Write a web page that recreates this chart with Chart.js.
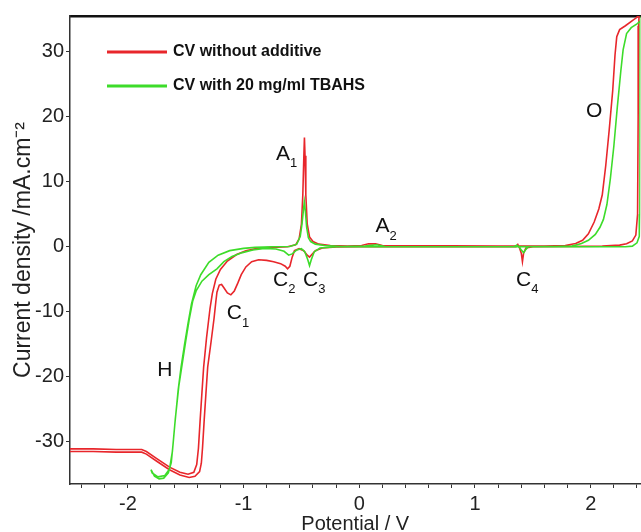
<!DOCTYPE html>
<html>
<head>
<meta charset="utf-8">
<script src="https://cdn.jsdelivr.net/npm/chart.js@4.4.1/dist/chart.umd.min.js"></script>
<style>
  html, body { margin: 0; padding: 0; background: #fff; overflow: hidden; }
  canvas { display: block; }
</style>
</head>
<body>
<canvas id="cv-chart" width="641" height="532"></canvas>
<script>
/* ===== DATA ===== */

// CV without additive (potential in V, current density in mA/cm2), scan order
const redPotential = [
  -0.20, -0.32, -0.38, -0.41, -0.43, -0.45, -0.48, -0.52, -0.56, -0.58,
  -0.60, -0.62, -0.64, -0.68, -0.74, -0.80, -0.87, -0.93, -0.98, -1.02,
  -1.05, -1.08, -1.11, -1.14, -1.17, -1.19, -1.21, -1.23, -1.24, -1.255,
  -1.28, -1.31, -1.325, -1.34, -1.355, -1.365, -1.38, -1.42, -1.47, -1.55,
  -1.64, -1.75, -1.84, -1.88, -2.10, -2.30, -2.60,
  -2.60, -2.30, -2.10, -1.88, -1.84, -1.75, -1.64, -1.55, -1.48, -1.43,
  -1.405, -1.39, -1.375, -1.36, -1.345, -1.32, -1.29, -1.27, -1.24, -1.20,
  -1.14, -1.06, -0.98, -0.88, -0.75, -0.62, -0.55, -0.52, -0.50, -0.488,
  -0.479, -0.474, -0.469, -0.462, -0.45, -0.43, -0.40, -0.35, -0.25, -0.10,
  0.02, 0.08, 0.14, 0.20, 0.40, 0.80, 1.20, 1.60, 1.78, 1.87,
  1.93, 1.98, 2.03, 2.07, 2.10, 2.13, 2.16, 2.19, 2.21, 2.225,
  2.25, 2.30, 2.36, 2.40, 2.45,
  2.42, 2.415, 2.41, 2.405, 2.39, 2.36, 2.31, 2.25, 2.10, 1.80,
  1.50, 1.44, 1.42, 1.41, 1.40, 1.385, 1.37, 1.355, 1.00, 0.50,
  0.00, -0.20
];
const redCurrent = [
  -0.05, -0.2, -0.6, -1.2, -1.6, -1.3, -0.6, -0.3, -0.6, -1.6,
  -3.0, -3.4, -3.0, -2.6, -2.3, -2.1, -2.0, -2.3, -3.1, -4.3,
  -5.6, -6.8, -7.4, -7.1, -6.3, -5.8, -5.9, -7.0, -8.5, -11,
  -14.5, -18.5, -22.5, -26.6, -31, -33.3, -34.6, -35.3, -35.5, -35.1,
  -34.3, -33.0, -31.9, -31.6, -31.6, -31.5, -31.5,
  -31.1, -31.1, -31.2, -31.2, -31.5, -32.6, -33.9, -34.7, -35.0, -34.7,
  -33.5, -31, -26.6, -22.5, -18.5, -14, -9.5, -7.2, -5.0, -3.5,
  -2.2, -1.2, -0.6, -0.25, -0.1, 0.0, 0.3, 1.2, 3.5, 8,
  14, 16.8, 14, 8, 3.5, 1.5, 0.8, 0.4, 0.2, 0.1,
  0.2, 0.45, 0.45, 0.2, 0.15, 0.15, 0.1, 0.1, 0.2, 0.5,
  1.0, 2.0, 3.8, 5.8, 8.0, 12.5, 18, 24, 29.5, 32.3,
  33.4, 34.0, 34.8, 35.3, 37,
  37, 34, 20, 5, 1.8, 0.9, 0.45, 0.25, 0.1, 0.05,
  0.0, -0.2, -1.0, -2.3, -1.0, -0.2, 0.35, 0.0, 0.0, 0.0,
  0.0, -0.05
];

// CV with 20 mg/ml TBAHS, scan order
const greenPotential = [
  -0.20, -0.34, -0.39, -0.415, -0.43, -0.445, -0.47, -0.50, -0.54, -0.58,
  -0.61, -0.65, -0.72, -0.82, -0.92, -1.01, -1.10, -1.17, -1.23, -1.30,
  -1.36, -1.41, -1.44, -1.47, -1.50, -1.53, -1.56, -1.59, -1.61, -1.625,
  -1.65, -1.69, -1.73, -1.77, -1.80,
  -1.79, -1.74, -1.68, -1.64, -1.615, -1.595, -1.565, -1.54, -1.51, -1.48,
  -1.45, -1.41, -1.37, -1.30, -1.22, -1.12, -1.00, -0.90, -0.75, -0.60,
  -0.54, -0.51, -0.495, -0.482, -0.475, -0.466, -0.455, -0.44, -0.42, -0.38,
  -0.30, -0.15, 0.05, 0.15, 0.22, 0.60, 1.20, 1.70, 1.84, 1.92,
  1.98, 2.04, 2.08, 2.11, 2.14, 2.17, 2.20, 2.23, 2.26, 2.28,
  2.31, 2.35, 2.40, 2.46, 2.50,
  2.44, 2.428, 2.425, 2.42, 2.40, 2.36, 2.30, 1.60, 1.46, 1.44,
  1.42, 1.40, 1.38, 1.36, 1.34, 0.60, 0.00, -0.20
];
const greenCurrent = [
  0.0, -0.2, -0.8, -2.0, -2.9, -2.0, -0.8, -0.3, -0.5, -1.1,
  -1.3, -0.7, -0.35, -0.25, -0.5, -0.9, -1.5, -2.3, -3.4, -4.3,
  -5.3, -6.8, -8.4, -11.2, -14.5, -18.0, -21.5, -26.5, -30.5, -33.2,
  -34.8, -35.6, -35.7, -35.3, -34.3,
  -34.8, -35.4, -35.2, -34.2, -31.5, -27.5, -22, -18.5, -15, -11.8,
  -8.8, -6.0, -4.3, -2.4, -1.3, -0.6, -0.25, -0.1, 0.0, 0.05,
  0.4, 1.6, 3.5, 5.8, 6.9, 5.5, 3.0, 1.4, 0.8, 0.4,
  0.2, 0.05, 0.1, 0.3, 0.05, 0.0, 0.0, 0.05, 0.1, 0.5,
  1.0, 1.9, 3.0, 4.2, 6.5, 10.5, 15.5, 21.5, 27.0, 30.3,
  32.8, 33.7, 34.3, 35.2, 36.5,
  36.5, 34.0, 5, 1.6, 0.6, 0.1, 0.0, 0.0, 0.0, -0.4,
  -0.9, -0.5, 0.0, 0.25, 0.0, 0.0, 0.0, 0.0
];

// peak labels written on the plot (anchored in data units)
const peakLetters = ["A", "A", "C", "C", "C", "C", "H", "O"];
const peakIndices = ["1", "2", "1", "2", "3", "4", "", ""];
const peakPotential = [-0.66, 0.20, -1.08, -0.68, -0.42, 1.42, -1.68, 2.03];
const peakCurrent = [14.3, 3.2, -10.3, -5.1, -5.1, -5.1, -19.0, 20.8];

const yTickValues = [-30, -20, -10, 0, 10, 20, 30];

/* ===== HELPERS ===== */

const FONT = '"Liberation Sans", Arial, Helvetica, sans-serif';

function toPoints(xs, ys) {
  return xs.map((x, i) => ({ x, y: ys[i] }));
}

function isWhole(v) {
  return Math.abs(v - Math.round(v)) < 1e-6;
}

/* ===== PLUGIN: legend box + peak labels ===== */

const cvAnnotations = {
  id: "cvAnnotations",
  afterDatasetsDraw(chart) {
    const { ctx, chartArea, scales } = chart;
    ctx.save();

    // legend inside the plot, top left
    chart.data.datasets.forEach((ds, i) => {
      const y = chartArea.top + 36 + i * 34;
      ctx.strokeStyle = ds.borderColor;
      ctx.lineWidth = 3;
      ctx.beginPath();
      ctx.moveTo(chartArea.left + 37, y);
      ctx.lineTo(chartArea.left + 97, y);
      ctx.stroke();

      ctx.fillStyle = "#111";
      ctx.font = "bold 16px " + FONT;
      ctx.textAlign = "left";
      ctx.textBaseline = "middle";
      ctx.fillText(ds.label, chartArea.left + 103, y);
    });

    // peak names with subscripts
    peakLetters.forEach((letter, i) => {
      const x = scales.x.getPixelForValue(peakPotential[i]);
      const y = scales.y.getPixelForValue(peakCurrent[i]);
      ctx.fillStyle = "#111";
      ctx.font = "21px " + FONT;
      ctx.textAlign = "center";
      ctx.textBaseline = "middle";
      ctx.fillText(letter, x, y);
      if (peakIndices[i]) {
        const w = ctx.measureText(letter).width;
        ctx.font = "13px " + FONT;
        ctx.textAlign = "left";
        ctx.fillText(peakIndices[i], x + w / 2, y + 10);
      }
    });

    ctx.restore();
  }
};

/* ===== CHART ===== */

Chart.defaults.font.family = FONT;
Chart.defaults.color = "#222";

function makeLine(label, xs, ys, color, order) {
  return {
    label,
    data: toPoints(xs, ys),
    borderColor: color,
    backgroundColor: color,
    borderWidth: 1.6,
    showLine: true,
    pointRadius: 0,
    tension: 0,
    clip: 0,
    order
  };
}

function initChart() {
  const canvas = document.getElementById("cv-chart");

  return new Chart(canvas, {
    type: "scatter",
    data: {
      datasets: [
        makeLine("CV without additive", redPotential, redCurrent, "#e8262b", 1),
        makeLine("CV with 20 mg/ml TBAHS", greenPotential, greenCurrent, "#3ddc2a", 0)
      ]
    },
    options: {
      responsive: false,
      animation: false,
      layout: { padding: { top: 16, right: 0, bottom: 0, left: 0 } },
      plugins: {
        legend: { display: false },
        tooltip: { enabled: false }
      },
      scales: {
        x: {
          type: "linear",
          position: "bottom",
          min: -2.5,
          max: 2.43,
          afterFit: s => { s.height = 48; },
          border: { display: true, color: "#333", width: 1.5 },
          grid: { drawOnChartArea: false, drawTicks: true, tickLength: 4, tickColor: "#333" },
          ticks: {
            stepSize: 0.2,
            includeBounds: false,
            autoSkip: false,
            maxRotation: 0,
            padding: 4,
            font: { size: 20 },
            callback: v => (isWhole(v) ? String(Math.round(v)) : "")
          },
          title: {
            display: true,
            text: "Potential / V",
            font: { size: 20 },
            color: "#222",
            padding: { top: 0, bottom: -4 }
          }
        },
        xTop: {
          type: "linear",
          position: "top",
          min: -2.5,
          max: 2.43,
          afterFit: s => { s.height = 0; },
          border: { display: true, color: "#111", width: 2.5 },
          grid: { display: false },
          ticks: { display: false }
        },
        y: {
          type: "linear",
          min: -36.5,
          max: 35.5,
          afterFit: s => { s.width = 70; },
          afterBuildTicks: s => { s.ticks = yTickValues.map(value => ({ value })); },
          border: { display: true, color: "#333", width: 1.5 },
          grid: { drawOnChartArea: false, drawTicks: true, tickLength: 4, tickColor: "#333" },
          ticks: {
            padding: 2,
            font: { size: 20 }
          },
          title: {
            display: true,
            text: "Current density /mA.cm\u207B\u00B2",
            font: { size: 23 },
            color: "#222",
            padding: { top: 10, bottom: 0 }
          }
        }
      }
    },
    plugins: [cvAnnotations]
  });
}

document.addEventListener("DOMContentLoaded", initChart);
</script>
</body>
</html>
